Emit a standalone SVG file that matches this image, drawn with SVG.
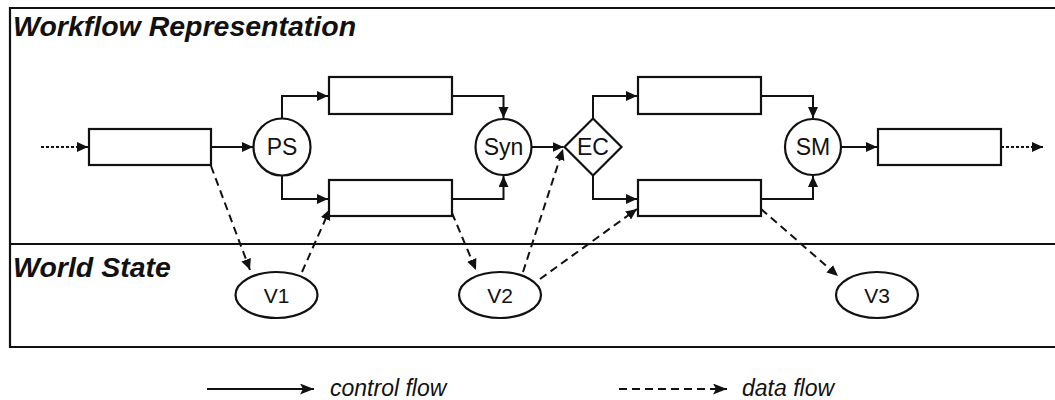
<svg xmlns="http://www.w3.org/2000/svg" width="1055" height="400" viewBox="0 0 1055 400">
<style>
.frame{fill:none;stroke:#111;stroke-width:2.2}
.box{fill:#fff;stroke:#111;stroke-width:2.2}
.ctl{fill:none;stroke:#111;stroke-width:2}
.dat{fill:none;stroke:#111;stroke-width:2;stroke-dasharray:8 5}
.dot{fill:none;stroke:#111;stroke-width:2;stroke-dasharray:3 2}
.lbl{font-family:"Liberation Sans",Arial,sans-serif;font-size:23px;fill:#111;text-anchor:middle}
.vl{font-family:"Liberation Sans",Arial,sans-serif;font-size:21px;fill:#111;text-anchor:middle}
.ttl{font-family:"Liberation Sans",Arial,sans-serif;font-size:28.5px;font-weight:bold;font-style:italic;fill:#111}
.leg{font-family:"Liberation Sans",Arial,sans-serif;font-size:23px;font-style:italic;fill:#111}
</style>
<defs>
<marker id="ah" markerUnits="userSpaceOnUse" markerWidth="13" markerHeight="12" refX="11" refY="5" orient="auto">
<path d="M0,0 L11,5 L0,10 z" fill="#111"/>
</marker>
<marker id="ahl" markerUnits="userSpaceOnUse" markerWidth="16" markerHeight="13" refX="14" refY="5.5" orient="auto">
<path d="M0,0 L14,5.5 L0,11 L3,5.5 z" fill="#111"/>
</marker>
</defs>
<rect width="1055" height="400" fill="#fff"/>
<g id="frame">
<path class="frame" d="M1056,8 H10 V347 H1056 M10,244 H1056"/>
<text class="ttl" x="13" y="36">Workflow Representation</text>
<text class="ttl" x="13" y="277">World State</text>
</g>
<g id="connectors">
<path class="dot" d="M41,147 H88" marker-end="url(#ah)"/>
<path class="ctl" d="M211,147 H253" marker-end="url(#ah)"/>
<path class="ctl" d="M282,119 V96 H328" marker-end="url(#ah)"/>
<path class="ctl" d="M282,175 V199 H328" marker-end="url(#ah)"/>
<path class="ctl" d="M452,96 H503.5 V118" marker-end="url(#ah)"/>
<path class="ctl" d="M452,199 H503.5 V176" marker-end="url(#ah)"/>
<path class="ctl" d="M531.5,147 H563.5" marker-end="url(#ah)"/>
<path class="ctl" d="M593,118.5 V96 H637" marker-end="url(#ah)"/>
<path class="ctl" d="M593,175.5 V199 H637" marker-end="url(#ah)"/>
<path class="ctl" d="M761,96 H813 V118" marker-end="url(#ah)"/>
<path class="ctl" d="M761,199 H813 V176" marker-end="url(#ah)"/>
<path class="ctl" d="M841,147 H877" marker-end="url(#ah)"/>
<path class="dot" d="M1001,147 H1043" marker-end="url(#ah)"/>
<path class="dat" d="M211,166 L250,270" marker-end="url(#ah)"/>
<path class="dat" d="M302,272 L330,209" marker-end="url(#ah)"/>
<path class="dat" d="M452,213 L476,270" marker-end="url(#ah)"/>
<path class="dat" d="M523,272 L563,149" marker-end="url(#ah)"/>
<path class="dat" d="M540,279 L637,209" marker-end="url(#ah)"/>
<path class="dat" d="M761,209 L838,276" marker-end="url(#ah)"/>
</g>
<g id="task1"><rect class="box" x="89" y="129" width="122" height="36"/></g>
<g id="PS"><circle class="box" cx="282" cy="147" r="28.5"/><text class="lbl" x="282" y="155">PS</text></g>
<g id="task2"><rect class="box" x="329" y="77" width="123" height="37"/></g>
<g id="task3"><rect class="box" x="329" y="180" width="123" height="36"/></g>
<g id="Syn"><circle class="box" cx="503.5" cy="147" r="28"/><text class="lbl" x="503.5" y="155">Syn</text></g>
<g id="EC"><path class="box" d="M593,118.5 L621.5,147 L593,175.5 L564.5,147 z"/><text class="lbl" x="593" y="155">EC</text></g>
<g id="task4"><rect class="box" x="638" y="77" width="123" height="37"/></g>
<g id="task5"><rect class="box" x="638" y="180" width="123" height="36"/></g>
<g id="SM"><circle class="box" cx="813" cy="147" r="28"/><text class="lbl" x="813" y="155">SM</text></g>
<g id="task6"><rect class="box" x="878" y="129" width="123" height="36"/></g>
<g id="V1"><ellipse class="box" cx="276.5" cy="295" rx="41" ry="23"/><text class="vl" x="276.5" y="302.5">V1</text></g>
<g id="V2"><ellipse class="box" cx="500" cy="295" rx="41" ry="23"/><text class="vl" x="500" y="302.5">V2</text></g>
<g id="V3"><ellipse class="box" cx="877" cy="295" rx="41" ry="23"/><text class="vl" x="877" y="302.5">V3</text></g>
<g id="legend">
<path class="ctl" d="M207,389 H314" marker-end="url(#ahl)"/>
<text class="leg" x="330" y="396">control flow</text>
<path class="dat" d="M619,389 H727" marker-end="url(#ahl)"/>
<text class="leg" x="742" y="396">data flow</text>
</g>
</svg>
